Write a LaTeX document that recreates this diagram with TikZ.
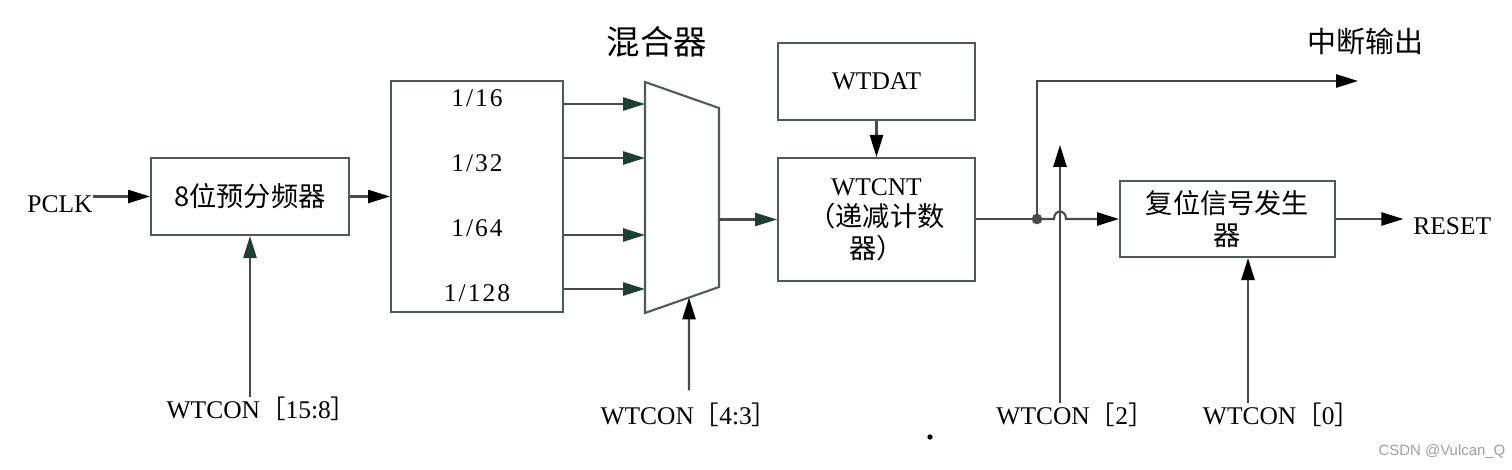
\documentclass[tikz,border=0pt]{standalone}
\usepackage{fontspec}
\setmainfont{Liberation Serif}
\newfontfamily\cjk{Noto Sans CJK SC}
\newfontfamily\wmfont{Liberation Sans}
\newfontfamily\ratio[LetterSpace=8]{Liberation Serif}
\usetikzlibrary{arrows.meta,calc}
\definecolor{linegray}{HTML}{4A4A4A}
\definecolor{boxgray}{HTML}{505A57}
\definecolor{headgreen}{HTML}{1D3F33}
\newcommand{\zh}{\cjk\fontsize{15.5}{18}\selectfont}
\newcommand{\wtcon}[1]{WTCON{\cjk ［}#1{\cjk ］}}

\begin{document}
\begin{tikzpicture}
[x=0.02cm,y=-0.02cm]
\tikzstyle{block}=[draw=boxgray,line width=1.2pt,inner sep=0,align=center,font=\fontsize{14.5}{18}\selectfont]
\tikzstyle{wire}=[draw=linegray,line width=1.2pt]
\tikzstyle{tip}=[wire,-{Triangle[length=12.5pt,width=7.5pt,color=black]}]
\tikzstyle{gtip}=[wire,-{Triangle[length=12.5pt,width=7.5pt,color=headgreen]}]
\tikzstyle{sig}=[inner sep=0,font=\fontsize{14.5}{18}\selectfont]

\useasboundingbox(0,0)rectangle(1512,470);

\node(pclk)[sig]at(60,204){PCLK};
\node(pre)[block,minimum width=3.96cm,minimum height=1.54cm]at(250,196.5){\zh 8位预分频器};
\node(div)[block,minimum width=3.44cm,minimum height=4.62cm]at(477,196.5){};
\node(d16)[sig]at(477,98){\ratio 1/16};
\node(d32)[sig]at(477,163){\ratio 1/32};
\node(d64)[sig]at(477,228){\ratio 1/64};
\node(d128)[sig]at(477,293){\ratio 1/128};

% mixer
\coordinate(mtl)at(645,82);
\coordinate(mtr)at(719,108);
\coordinate(mbr)at(719,287);
\coordinate(mbl)at(645,313);
\coordinate(msel)at($(mbl)!0.595!(mbr)$);
\draw[boxgray,line width=1.2pt](mtl)--(mtr)--(mbr)--(mbl)--cycle;
\node(mix)[sig,font=\cjk\fontsize{19}{22}\selectfont]at(657,42){混合器};

\node(wtdat)[block,minimum width=3.94cm,minimum height=1.54cm]at(876.5,81.5){WTDAT};
\node(wtcnt)[block,minimum width=3.94cm,minimum height=2.46cm]at(876.5,219.5){WTCNT\\{\zh （递减计数}\\{\zh 器）}};
\node(rst)[block,minimum width=4.3cm,minimum height=1.52cm]at(1227.5,219){{\zh 复位信号发生}\\{\zh 器}};
\node(reset)[sig,anchor=west]at(1413,226){RESET};
\node(irqtxt)[sig,font=\cjk\fontsize{16.5}{20}\selectfont]at(1365,42){中断输出};

\node(lbl158)[sig]at(261.5,409){\wtcon{15:8}};
\node(lbl43)[sig]at(689,415){\wtcon{4:3}};
\node(lbl2)[sig]at(1075,415){\wtcon{2}};
\node(lbl0)[sig]at(1281.5,415){\wtcon{0}};

\draw[tip](pclk.east|-pre.west)--(pre.west);
\draw[tip](pre.east)--(div.west);
\foreach \y in {104,158,235,289}
  \draw[gtip](div.east|-0,\y)--(mtl|-0,\y);
\draw[gtip](mtr|-wtcnt.west)--(wtcnt.west);
\draw[tip](wtdat.south)--(wtcnt.north);

\coordinate(jn)at(1037,219);
\coordinate(hopa)at(1054,219);
\coordinate(hopb)at(1066,219);
\coordinate(irq)at(1358,81);
\coordinate(en2)at(1060,145);
\draw[wire](wtcnt.east|-jn)--(jn);
\fill[linegray](jn)circle(3pt);
\draw[tip](jn)|-(irq);
\draw[tip](jn)--(hopa)..controls(1054,209)and(1066,209)..(hopb)--(rst.west);
\draw[tip,shorten >=5.5pt](rst.east)--(reset.west|-rst.east);

\draw[gtip](lbl158.north-|pre.south)--(pre.south);
\draw[tip,shorten <=7pt](lbl43.north)--(msel);
\draw[tip](lbl2.north-|en2)--(en2);
\draw[tip](lbl0.north-|1248,0)--(rst.south-|1248,0);

\fill(930,437)circle(1.5pt);
\node(mark)[inner sep=0,font=\wmfont\fontsize{8.5}{10}\selectfont,text=gray!75]at(1442,452){CSDN @Vulcan\_Q};
\end{tikzpicture}
\end{document}
